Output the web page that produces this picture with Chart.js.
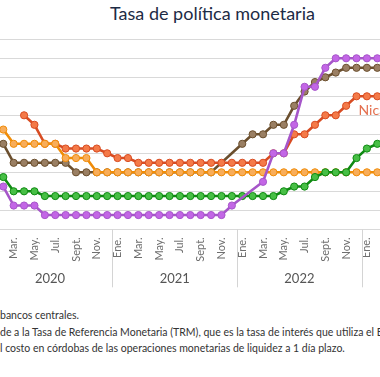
<!DOCTYPE html>
<html lang="es">
<head>
<meta charset="utf-8">
<script src="https://cdn.jsdelivr.net/npm/chart.js@4.4.1/dist/chart.umd.min.js"></script>
<style>
	html, body { margin: 0; padding: 0; background: #fff; overflow: hidden; }
	body { width: 380px; height: 377px; position: relative; }
	#titulo { position: absolute; left: 0; top: 2px; width: 425px; text-align: center;
		font: 18px Lato, sans-serif; color: #1d2b45; }
	#grafico { position: absolute; left: -10px; top: 0; width: 420px; height: 300px; }
	.nota { position: absolute; left: 0; white-space: nowrap; font: 10.5px Lato, sans-serif; color: #333; }
	.nota .pre { position: absolute; right: 100%; }
</style>
</head>
<body>
<div id="titulo">Tasa de política monetaria</div>
<div id="grafico"><canvas id="tpm"></canvas></div>
<div class="nota" style="top:309px"><span class="pre">Fuente: elaboración propia con datos de los </span>bancos centrales.</div>
<div class="nota" style="top:326px"><span class="pre">Nota: para Nicaragua correspon</span>de a la Tasa de Referencia Monetaria (TRM), que es la tasa de interés que utiliza el Banco Central de Nicaragua como referencia para e</div>
<div class="nota" style="top:342px"><span class="pre">Banco Central de Nicaragua como referencia para e</span>l costo en córdobas de las operaciones monetarias de liquidez a 1 día plazo.</div>
<script>
// meses feb 2020 - feb 2023
const meses = ['Feb.','Mar.','Abr.','May.','Jun.','Jul.','Ago.','Sept.','Oct.','Nov.','Dic.',
	'Ene.','Feb.','Mar.','Abr.','May.','Jun.','Jul.','Ago.','Sept.','Oct.','Nov.','Dic.',
	'Ene.','Feb.','Mar.','Abr.','May.','Jun.','Jul.','Ago.','Sept.','Oct.','Nov.','Dic.',
	'Ene.','Feb.'];
const anios = ['2020', '2021', '2022', '2023'];

const costaRica = [2.25, 1.25, 1.25, 1.25, 0.75, 0.75, 0.75, 0.75, 0.75, 0.75, 0.75,
	0.75, 0.75, 0.75, 0.75, 0.75, 0.75, 0.75, 0.75, 0.75, 0.75, 0.75, 1.25,
	null, null, 2.5, 4.0, 4.0, 5.5, 7.5, 7.5, 8.5, 9.0, 9.0, 9.0,
	9.0, 9.0];
const guatemala = [2.75, 2.0, 2.0, 2.0, 1.75, 1.75, 1.75, 1.75, 1.75, 1.75, 1.75,
	1.75, 1.75, 1.75, 1.75, 1.75, 1.75, 1.75, 1.75, 1.75, 1.75, 1.75, 1.75,
	1.75, 1.75, 1.75, 1.75, 2.0, 2.25, 2.25, 2.75, 3.0, 3.0, 3.0, 3.75,
	4.25, 4.5];
const honduras = [5.25, 4.5, 4.5, 4.5, 4.5, 4.5, 3.75, 3.75, 3.75, 3.0, 3.0,
	3.0, 3.0, 3.0, 3.0, 3.0, 3.0, 3.0, 3.0, 3.0, 3.0, 3.0, 3.0,
	3.0, 3.0, 3.0, 3.0, 3.0, 3.0, 3.0, 3.0, 3.0, 3.0, 3.0, 3.0,
	3.0, 3.0];
const nicaragua = [null, null, 6.0, 5.5, 4.5, 4.5, 4.25, 4.25, 4.25, 4.25, 4.0,
	3.75, 3.75, 3.5, 3.5, 3.5, 3.5, 3.5, 3.5, 3.5, 3.5, 3.5, 3.5,
	3.5, 3.5, 3.5, 4.0, 4.0, 5.0, 5.0, 5.5, 6.0, 6.0, 6.5, 7.0,
	7.0, 7.0];
const repDominicana = [4.5, 3.5, 3.5, 3.5, 3.5, 3.5, 3.5, 3.0, 3.0, 3.0, 3.0,
	3.0, 3.0, 3.0, 3.0, 3.0, 3.0, 3.0, 3.0, 3.0, 3.0, null, null,
	4.5, 5.0, 5.0, 5.5, 5.5, 6.5, 7.25, 7.75, 8.0, 8.25, 8.5, 8.5,
	8.5, 8.5];

function serie(nombre, datos, linea, punto) {
	return {
		label: nombre,
		data: datos,
		borderColor: linea,
		backgroundColor: punto,
		borderWidth: 2.6,
		pointRadius: 3.6,
		pointBorderWidth: 1,
		pointBorderColor: linea,
		pointBackgroundColor: punto,
		spanGaps: true,
		tension: 0
	};
}

// años y separadores bajo el eje
const aniosPlugin = {
	id: 'anios',
	afterDraw(chart) {
		const ctx = chart.ctx, x = chart.scales.x, y = chart.scales.y;
		const paso = x.getPixelForValue(1) - x.getPixelForValue(0);
		const x0 = x.getPixelForValue(0);
		const base = y.getPixelForValue(0);
		const primerEne = meses.indexOf('Ene.') - 12;
		ctx.save();
		ctx.strokeStyle = '#d4d4d4';
		ctx.lineWidth = 1;
		ctx.fillStyle = '#555';
		ctx.font = '13px Lato, sans-serif';
		ctx.textAlign = 'center';
		ctx.textBaseline = 'middle';
		anios.forEach(function (a, k) {
			const ini = x0 + (primerEne + 12 * k) * paso - paso / 2;
			if (k > 0) {
				ctx.beginPath();
				ctx.moveTo(Math.round(ini) + 0.5, base);
				ctx.lineTo(Math.round(ini) + 0.5, base + 58);
				ctx.stroke();
			}
			ctx.fillText(a, ini + 6 * paso, base + 50);
		});
		// etiqueta de la serie
		ctx.fillStyle = '#e4704f';
		ctx.textAlign = 'left';
		ctx.font = '14px Lato, sans-serif';
		ctx.fillText('Nicaragua', x.getPixelForValue(34) + 2, y.getPixelForValue(6.25));
		ctx.restore();
	}
};

new Chart(document.getElementById('tpm'), {
	type: 'line',
	plugins: [aniosPlugin],
	data: {
		labels: meses,
		datasets: [
			serie('Costa Rica', costaRica, '#a656c9', '#c366e6'),
			serie('Guatemala', guatemala, '#0f8a12', '#47bf45'),
			serie('Honduras', honduras, '#f08c08', '#f8ad5a'),
			serie('Nicaragua', nicaragua, '#d84c22', '#f47a48'),
			serie('República Dominicana', repDominicana, '#6b4f2e', '#9a7f63')
		]
	},
	options: {
		responsive: true,
		maintainAspectRatio: false,
		animation: false,
		layout: { padding: { left: 8.1, right: 27.5, top: 39.3, bottom: 10.7 } },
		plugins: {
			legend: { display: false },
			tooltip: { enabled: false }
		},
		scales: {
			x: {
				offset: true,
				grid: { display: false, drawTicks: false },
				border: { display: false },
				ticks: {
					autoSkip: false,
					minRotation: 90,
					maxRotation: 90,
					padding: 8,
					color: '#6e6e6e',
					font: { family: 'Lato', size: 11 },
					callback: function (v, i) { return i % 2 === 1 ? meses[i] : ''; }
				},
				afterFit: function (s) { s.height = 60; }
			},
			y: {
				min: 0,
				max: 10,
				ticks: { display: false, stepSize: 1 },
				grid: { color: '#d9d9d9', drawTicks: false },
				border: { display: false },
				afterFit: function (s) { s.width = 0; }
			}
		}
	}
});
</script>
</body>
</html>
